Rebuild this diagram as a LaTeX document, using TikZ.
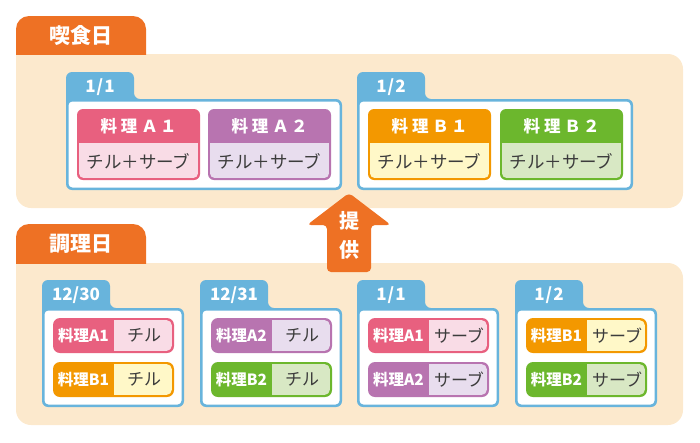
\documentclass[tikz,border=0pt]{standalone}
\usepackage{fontspec}
\setmainfont{Noto Sans CJK JP}
\definecolor{orangec}{HTML}{EE7124}
\definecolor{panelc}{HTML}{FCE9CD}
\definecolor{bluec}{HTML}{68B4DC}
\definecolor{pinkd}{HTML}{E8607F}
\definecolor{pinkl}{HTML}{F9DCE6}
\definecolor{purpd}{HTML}{B874B0}
\definecolor{purpl}{HTML}{E8DDEE}
\definecolor{orad}{HTML}{F39800}
\definecolor{oral}{HTML}{FFF8C8}
\definecolor{grnd}{HTML}{6CB72D}
\definecolor{grnl}{HTML}{D8E8C4}
\definecolor{txtc}{HTML}{3C3C3C}
\tikzset{
  paneltitle/.style={text=white,font=\bfseries\fontsize{21}{21}\selectfont,inner sep=0pt},
  datelabel/.style={text=white,font=\bfseries\fontsize{17}{17}\selectfont,inner sep=0pt},
  hdr/.style={text=white,font=\bfseries\fontsize{16.5}{16.5}\selectfont,inner sep=0pt},
  subt/.style={text=txtc,font=\fontsize{17.5}{17.5}\selectfont,inner sep=0pt},
  pilll/.style={text=white,font=\bfseries\fontsize{15.5}{15.5}\selectfont,inner sep=0pt},
  pillr/.style={text=txtc,font=\fontsize{17}{17}\selectfont,inner sep=0pt},
  arrowtext/.style={text=white,font=\bfseries\fontsize{20}{20}\selectfont,inner sep=0pt}
}
% date box: x0, x1, tabtop, bodytop, bottom, label, name
\newcommand\dbox[7]{%
  \fill[bluec, rounded corners=6] (#1,#5) -- (#1,#3) -- ({#1+68},#3) -- ({#1+68},#4) -- (#2,#4) -- (#2,#5) -- cycle;
  \fill[white, rounded corners=4] ({#1+2.5},{#4+2.5}) rectangle ({#2-2.5},{#5-2.5});
  \node[datelabel] (#7) at ({#1+34},{(#3+#4)/2+1.5}) {#6};
}
% top card: x0, dark, light, title, sub, name
\newcommand\tcard[6]{%
  \fill[#2, rounded corners=6] (#1,109) rectangle ({#1+123},180);
  \begin{scope}
    \clip (#1,143) rectangle ({#1+123},180);
    \fill[#3, rounded corners=4] ({#1+2.2},120) rectangle ({#1+120.8},177.8);
  \end{scope}
  \node[hdr] (#6) at ({#1+61.5},126.5) {#4};
  \node[subt] (#6s) at ({#1+61.5},161.5) {#5};
}
% pill: x0, y0, dark, light, left, right, name
\newcommand\pill[7]{%
  \fill[#3, rounded corners=7] (#1,#2) rectangle ({#1+121},{#2+35});
  \begin{scope}
    \clip ({#1+61},#2) rectangle ({#1+121},{#2+35});
    \fill[#4, rounded corners=5] ({#1+40},{#2+2.2}) rectangle ({#1+118.8},{#2+32.8});
  \end{scope}
  \node[pilll] (#7) at ({#1+30.5},{#2+17.5}) {#5};
  \node[pillr] (#7s) at ({#1+91},{#2+17.5}) {#6};
}
\begin{document}
\begin{tikzpicture}[x=1pt,y=-1pt]
\useasboundingbox (0,0) rectangle (700,442);
% ---------- top panel ----------
\fill[panelc, rounded corners=15] (16,54) rectangle (683,208);
\fill[panelc] (16,54) rectangle (50,90);
\begin{scope}
  \clip (0,0) rectangle (700,54.3);
  \fill[orangec, rounded corners=13] (16,16) rectangle (146,90);
\end{scope}
\node[paneltitle] (eat) at (81,35) {喫食日};
\dbox{66}{342}{72}{99}{190}{1\hspace{1pt}/\hspace{1pt}1}{d11}
\dbox{357}{633}{72}{99}{190}{1\hspace{1pt}/\hspace{1pt}2}{d12}
\tcard{77}{pinkd}{pinkl}{料\hspace{4pt}理\hspace{4pt}Ａ\hspace{2pt}１}{チル＋サーブ}{ta1}
\tcard{208}{purpd}{purpl}{料\hspace{4pt}理\hspace{4pt}Ａ\hspace{2pt}２}{チル＋サーブ}{ta2}
\tcard{368}{orad}{oral}{料\hspace{4pt}理\hspace{4pt}Ｂ\hspace{2pt}１}{チル＋サーブ}{tb1}
\tcard{500}{grnd}{grnl}{料\hspace{4pt}理\hspace{4pt}Ｂ\hspace{2pt}２}{チル＋サーブ}{tb2}
% ---------- bottom panel ----------
\fill[panelc, rounded corners=15] (16,263) rectangle (683,425);
\fill[panelc] (16,263) rectangle (50,300);
\begin{scope}
  \clip (0,200) rectangle (700,263.3);
  \fill[orangec, rounded corners=13] (16,224) rectangle (146,300);
\end{scope}
\node[paneltitle] (cook) at (81,244) {調理日};
\dbox{42}{184}{280}{308}{407}{12/30}{c1230}
\dbox{200}{342}{280}{308}{407}{12/31}{c1231}
\dbox{357}{499}{280}{308}{407}{1\hspace{1pt}/\hspace{1pt}1}{c11}
\dbox{515}{657}{280}{308}{407}{1\hspace{1pt}/\hspace{1pt}2}{c12}
\pill{53}{318}{pinkd}{pinkl}{料理A1}{チル}{p1}
\pill{53}{362}{orad}{oral}{料理B1}{チル}{p2}
\pill{211}{318}{purpd}{purpl}{料理A2}{チル}{p3}
\pill{211}{362}{grnd}{grnl}{料理B2}{チル}{p4}
\pill{368}{318}{pinkd}{pinkl}{料理A1}{サーブ}{p5}
\pill{368}{362}{purpd}{purpl}{料理A2}{サーブ}{p6}
\pill{526}{318}{orad}{oral}{料理B1}{サーブ}{p7}
\pill{526}{362}{grnd}{grnl}{料理B2}{サーブ}{p8}
% ---------- arrow ----------
\fill[orangec, rounded corners=4] (349,193) -- (391,225) -- (371,225) -- (371,272) -- (327,272) -- (327,225) -- (307,225) -- cycle;
\node[arrowtext] (a1) at (349,221) {提};
\node[arrowtext] (a2) at (349,250) {供};
\end{tikzpicture}
\end{document}
